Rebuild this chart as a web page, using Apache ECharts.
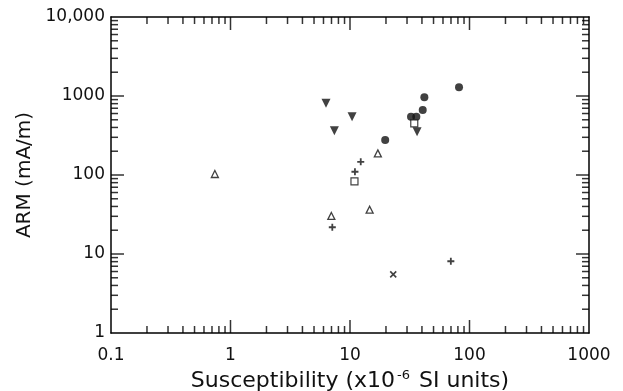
<!DOCTYPE html>
<html>
<head>
<meta charset="utf-8">
<script src="https://cdn.jsdelivr.net/npm/echarts@6/dist/echarts.min.js"></script>
<style>
html,body{margin:0;padding:0;background:#fff;}
#chart{width:623px;height:391px;}
</style>
</head>
<body>
<div id="chart"></div>
<script>
// ---- data (susceptibility x10^-6 SI, ARM mA/m) ----
const filledDownTriangle = [[6.3, 809], [10.4, 547], [7.4, 364], [36.4, 353]];
const filledCircle = [[81.7, 1289], [41.9, 963], [40.6, 665], [32.4, 547], [35.9, 547], [19.7, 277]];
const openSquare = [[34.5, 451], [10.9, 83.2]];
const openTriangle = [[0.74, 103], [17.1, 188], [14.6, 36.4], [6.98, 30.3]];
const plusMark = [[12.3, 147], [11.0, 110], [7.11, 21.8], [69.8, 8.09]];
const crossMark = [[23.0, 5.53]];

// ---- ticks ----
const xMajor = [0.1, 1, 10, 100, 1000];
const xMajorLabels = ['0.1', '1', '10', '100', '1000'];
const yMajor = [1, 10, 100, 1000, 10000];
const yMajorLabels = ['1', '10', '100', '1000', '10,000'];
const minorSteps = [2, 3, 4, 5, 6, 7, 8, 9];

const xLo = xMajor[0], xHi = xMajor[xMajor.length - 1];
const yLo = yMajor[0], yHi = yMajor[yMajor.length - 1];

function minorOf(majors) {
  const out = [];
  for (let i = 0; i < majors.length - 1; i++) {
    minorSteps.forEach(m => out.push(+(majors[i] * m).toPrecision(6)));
  }
  return out;
}
const xMinor = minorOf(xMajor);
const yMinor = minorOf(yMajor);

function labelFor(majors, labels) {
  return function (v) {
    for (let i = 0; i < majors.length; i++) {
      if (Math.abs(Math.log10(v) - Math.log10(majors[i])) < 1e-6) return labels[i];
    }
    return '';
  };
}

const FONT = 'DejaVu Sans';
const INK = '#111';
const lineStyle = { color: '#000', width: 1.5 };
const LMAJ = 13, LMIN = 7, TW = 1.5;

const option = {
  animation: false,
  backgroundColor: '#fff',
  grid: { left: 111, right: 34, top: 17, bottom: 58, containLabel: false, outerBoundsMode: 'none' },
  xAxis: [{
    type: 'log', logBase: 10, min: xLo, max: xHi, position: 'bottom',
    axisLine: { show: true, onZero: false, lineStyle: lineStyle },
    axisTick: { show: false },
    splitLine: { show: false },
    axisLabel: { show: true, formatter: labelFor(xMajor, xMajorLabels), color: INK,
      fontFamily: FONT, fontSize: 17, margin: 14, showMinLabel: true, showMaxLabel: true },
    name: '{a|Susceptibility (x10}{b|-6}{a| SI units)}',
    nameLocation: 'middle', nameGap: 24,
    nameTextStyle: { rich: {
      a: { fontFamily: FONT, fontSize: 22, color: INK, lineHeight: 26 },
      b: { fontFamily: FONT, fontSize: 13, color: INK, padding: [0, 2, 12, 2] }
    } }
  }],
  yAxis: [{
    type: 'log', logBase: 10, min: yLo, max: yHi, position: 'left',
    axisLine: { show: true, onZero: false, lineStyle: lineStyle },
    axisTick: { show: false },
    splitLine: { show: false },
    axisLabel: { show: true, formatter: labelFor(yMajor, yMajorLabels), color: INK,
      fontFamily: FONT, fontSize: 17, margin: 6, showMinLabel: true, showMaxLabel: true },
    name: 'ARM (mA/m)', nameLocation: 'middle', nameGap: 76,
    nameTextStyle: { fontFamily: FONT, fontSize: 20, color: INK, padding: [0, 0, 0, 0] }
  }],
  series: []
};

// tick marks as thin rect symbols at the frame edges, placed through the axes' scales
function tickSeries(data, size, offset) {
  return { type: 'scatter', data: data, symbol: 'rect', symbolSize: size, symbolOffset: offset,
    clip: false, itemStyle: { color: '#000' } };
}
const xInner = xMajor.slice(1, -1);
const yInner = yMajor.slice(1, -1);
option.series.push(
  tickSeries(xInner.map(v => [v, yLo]), [TW, LMAJ], [0, -LMAJ / 2]),
  tickSeries(xMinor.map(v => [v, yLo]), [TW, LMIN], [0, -LMIN / 2]),
  tickSeries(xInner.map(v => [v, yHi]), [TW, LMAJ], [0, LMAJ / 2]),
  tickSeries(xMinor.map(v => [v, yHi]), [TW, LMIN], [0, LMIN / 2]),
  tickSeries(yInner.map(v => [xLo, v]), [LMAJ, TW], [LMAJ / 2, 0]),
  tickSeries(yMinor.map(v => [xLo, v]), [LMIN, TW], [LMIN / 2, 0]),
  tickSeries(yInner.map(v => [xHi, v]), [LMAJ, TW], [-LMAJ / 2, 0]),
  tickSeries(yMinor.map(v => [xHi, v]), [LMIN, TW], [-LMIN / 2, 0])
);

const plusPath = 'path://M5,0L5,10M0,5L10,5';
const crossPath = 'path://M0,0L10,10M10,0L0,10';
option.series.push(
  { type: 'scatter', data: filledDownTriangle, symbol: 'triangle', symbolRotate: 180, symbolSize: 9,
    itemStyle: { color: '#111' } },
  { type: 'scatter', data: filledCircle, symbol: 'circle', symbolSize: 8,
    itemStyle: { color: '#111' } },
  { type: 'scatter', data: openSquare, symbol: 'rect', symbolSize: 7,
    itemStyle: { color: '#fff', borderColor: '#111', borderWidth: 1.2 } },
  { type: 'scatter', data: openTriangle, symbol: 'triangle', symbolSize: 7,
    itemStyle: { color: '#fff', borderColor: '#111', borderWidth: 1.3 } },
  { type: 'scatter', data: plusMark, symbol: plusPath, symbolSize: 7,
    itemStyle: { color: 'none', borderColor: '#111', borderWidth: 1.8 } },
  { type: 'scatter', data: crossMark, symbol: crossPath, symbolSize: 6,
    itemStyle: { color: 'none', borderColor: '#111', borderWidth: 1.6 } }
);

const chart = echarts.init(document.getElementById('chart'), null, { renderer: 'canvas' });
chart.setOption(option);
// top and right frame edges
chart.setOption({
  xAxis: [option.xAxis[0], { type: 'log', logBase: 10, min: xLo, max: xHi, position: 'top',
    axisLine: { show: true, onZero: false, lineStyle: lineStyle }, axisTick: { show: false },
    axisLabel: { show: false }, splitLine: { show: false } }],
  yAxis: [option.yAxis[0], { type: 'log', logBase: 10, min: yLo, max: yHi, position: 'right',
    axisLine: { show: true, onZero: false, lineStyle: lineStyle }, axisTick: { show: false },
    axisLabel: { show: false }, splitLine: { show: false } }]
});
</script>
</body>
</html>
